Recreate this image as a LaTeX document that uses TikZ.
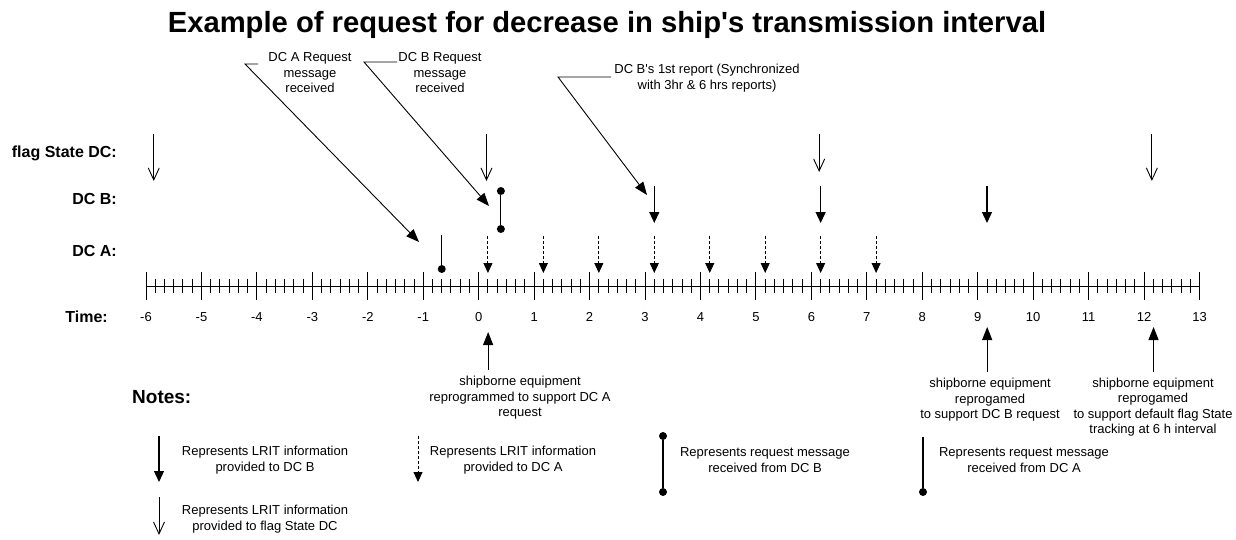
\documentclass[tikz,border=0pt]{standalone}
\usepackage{fontspec}
\setmainfont{Liberation Sans}
\usepackage{tikz}
\usetikzlibrary{arrows.meta,positioning}
\newcommand{\tpos}[1]{146+55.45*(#1+6)}
\tikzset{
  lbl/.style={font=\fontsize{16}{19}\selectfont\bfseries, anchor=east, inner sep=0pt},
  note/.style={font=\fontsize{13}{15.5}\selectfont, align=center, inner sep=0pt},
  num/.style={font=\fontsize{13}{15.5}\selectfont, inner sep=0pt},
  dot/.style={circle, fill, inner sep=0pt, minimum size=8pt},
  axis/.style={line width=1pt},
  bline/.style={line width=1.3pt, -{Triangle[length=11pt, width=10pt]}},
  aline/.style={line width=0.9pt, dash pattern=on 3pt off 2pt, -{Triangle[length=10pt, width=9pt]}},
  fline/.style={line width=0.9pt, -{Straight Barb[length=12pt, width=11pt]}},
  rline/.style={line width=1.2pt},
  lead/.style={line width=0.9pt, -{Triangle[length=13pt, width=10pt]}},
  up/.style={line width=1.1pt, -{Triangle[length=13pt, width=10pt]}}
}

\begin{document}
\begin{tikzpicture}[x=1pt, y=-1pt]
    \useasboundingbox (0,0) rectangle (1236,540);

    \node[font=\fontsize{29.2}{35}\selectfont\bfseries, anchor=base] (title) at (607,33)
      {Example of request for decrease in ship\textquotesingle s transmission interval};

    \node[lbl] (lflag) at (117,153) {flag State DC:};
    \node[lbl] (lb) at (117,199) {DC B:};
    \node[lbl] (la) at (117,251) {DC A:};
    \node[lbl] (ltime) at (108,317) {Time:};

    % time axis
    \coordinate (axL) at ({\tpos{-6}},286);
    \coordinate (axR) at ({\tpos{13}},286);
    \draw[axis] (axL) -- (axR);
    \foreach \m in {0,...,114}
      \draw[axis] ({\tpos{\m/6-6}},279) -- ({\tpos{\m/6-6}},293);
    \foreach \t in {-6,...,13} {
      \draw[axis] ({\tpos{\t}},272) -- ({\tpos{\t}},300);
      \node[num] (n\t) at ({\tpos{\t}},317) {\t};
    }

    \foreach \t/\e in {-6/181, 0/181, 6/172, 12/181} {
      \coordinate (fs\t) at ({\tpos{\t+0.14}},134);
      \coordinate (fe\t) at ({\tpos{\t+0.14}},\e);
      \draw[fline] (fs\t) -- (fe\t);
    }
    \foreach \t in {3,6,9} {
      \coordinate (bs\t) at ({\tpos{\t+1/6}},186);
      \coordinate (be\t) at ({\tpos{\t+1/6}},223);
      \draw[bline] (bs\t) -- (be\t);
    }
    \foreach \t in {0,...,7} {
      \coordinate (as\t) at ({\tpos{\t+1/6}},236);
      \coordinate (ae\t) at ({\tpos{\t+1/6}},273);
      \draw[aline] (as\t) -- (ae\t);
    }

    \coordinate (rqA) at ({\tpos{-4/6}},235);
    \node[dot] (rqAd) at ({\tpos{-4/6}},269) {};
    \draw[rline] (rqA) -- (rqAd);
    \node[dot] (rqB1) at ({\tpos{0.4}},191) {};
    \node[dot] (rqB2) at ({\tpos{0.4}},229) {};
    \draw[rline] (rqB1) -- (rqB2);

    % callouts
    \node[note] (cA) at (310,73) {DC A Request\\message\\received};
    \coordinate (cAk) at (258,64);
    \coordinate (cAj) at (245,64);
    \coordinate (cAt) at (419,242);
    \draw[lead] (cAk) -- (cAj) -- (cAt);

    \node[note] (cB) at (440,73) {DC B Request\\message\\received};
    \coordinate (cBk) at (397,62);
    \coordinate (cBj) at (364,62);
    \coordinate (cBt) at (489,206);
    \draw[lead] (cBk) -- (cBj) -- (cBt);

    \node[note] (cC) at (707,78) {DC B\textquotesingle s 1st report (Synchronized\\with 3hr \& 6 hrs reports)};
    \coordinate (cCk) at (611,77);
    \coordinate (cCj) at (558,77);
    \coordinate (cCt) at (647,195);
    \draw[lead] (cCk) -- (cCj) -- (cCt);

    % reprogramming
    \coordinate (uAs) at ({\tpos{0.17}},370);
    \coordinate (uAe) at ({\tpos{0.17}},332);
    \draw[up] (uAs) -- (uAe);
    \node[note] (pA) at (520,398) {shipborne equipment\\reprogrammed to support DC A\\request};

    \coordinate (uBs) at ({\tpos{9.17}},372);
    \coordinate (uBe) at ({\tpos{9.17}},327);
    \draw[up] (uBs) -- (uBe);
    \node[note] (pB) at (990,400) {shipborne equipment\\reprogamed\\to support DC B request};

    \coordinate (uFs) at ({\tpos{12.17}},372);
    \coordinate (uFe) at ({\tpos{12.17}},327);
    \draw[up] (uFs) -- (uFe);
    \node[note] (pF) at (1153,407) {shipborne equipment\\reprogamed\\to support default flag State\\tracking at 6 h interval};

    % notes
    \node[font=\fontsize{19}{23}\selectfont\bfseries, anchor=west, inner sep=0pt] (notes) at (132,397) {Notes:};

    \coordinate (k1s) at (159,436);
    \coordinate (k1e) at (159,482);
    \draw[bline] (k1s) -- (k1e);
    \node[note] (k1) at (265,460) {Represents LRIT information\\provided to DC B};

    \coordinate (k2s) at (418,436);
    \coordinate (k2e) at (418,482);
    \draw[aline] (k2s) -- (k2e);
    \node[note] (k2) at (513,460) {Represents LRIT information\\provided to DC A};

    \node[dot] (k3a) at (663,436) {};
    \node[dot] (k3b) at (663,492) {};
    \draw[rline] (k3a) -- (k3b);
    \node[note] (k3) at (765,460) {Represents request message\\received from DC B};

    \coordinate (k4s) at (923,437);
    \node[dot] (k4b) at (923,492) {};
    \draw[rline] (k4s) -- (k4b);
    \node[note] (k4) at (1024,460) {Represents request message\\received from DC A};

    \coordinate (k5s) at (159,497);
    \coordinate (k5e) at (159,535);
    \draw[fline] (k5s) -- (k5e);
    \node[note] (k5) at (265,519) {Represents LRIT information\\provided to flag State DC};
\end{tikzpicture}
\end{document}
